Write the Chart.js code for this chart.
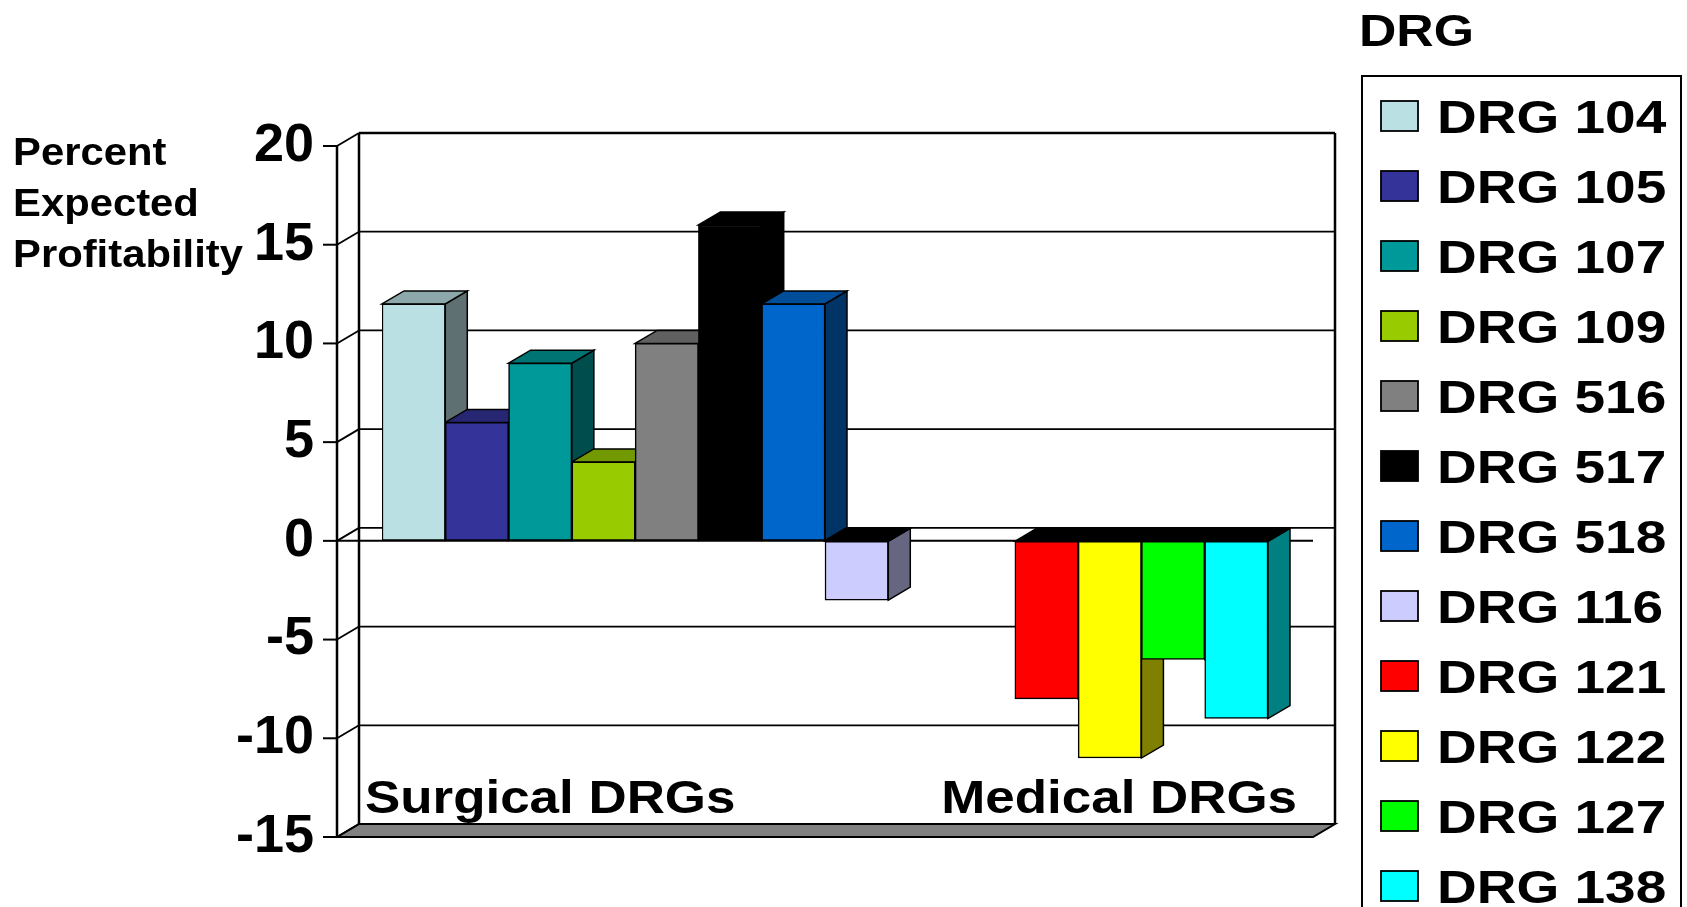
<!DOCTYPE html>
<html>
<head>
<meta charset="utf-8">
<script src="https://cdn.jsdelivr.net/npm/chart.js@4.4.1/dist/chart.umd.min.js"></script>
<style>
  html, body { margin: 0; padding: 0; background: #fff; }
  #wrap { width: 1687px; height: 907px; position: relative; }
</style>
</head>
<body>
<div id="wrap"><canvas id="drgChart"></canvas></div>
<script>
// ---- data ----
const drgNames = ['DRG 104', 'DRG 105', 'DRG 107', 'DRG 109', 'DRG 516', 'DRG 517',
                  'DRG 518', 'DRG 116', 'DRG 121', 'DRG 122', 'DRG 127', 'DRG 138'];
const drgGroup = ['Surgical', 'Surgical', 'Surgical', 'Surgical', 'Surgical', 'Surgical',
                  'Surgical', 'Surgical', 'Medical', 'Medical', 'Medical', 'Medical'];
const profitability = [12, 6, 9, 4, 10, 16, 12, -3, -8, -11, -6, -9];
const drgColors = ['#BBE0E3', '#333399', '#009999', '#99CC00', '#808080', '#000000',
                   '#0066CC', '#CCCCFF', '#FF0000', '#FFFF00', '#00FF00', '#00FFFF'];
const groupTitles = ['Surgical DRGs', 'Medical DRGs'];
const yTitle = ['Percent', 'Expected', 'Profitability'];
const yMin = -15, yMax = 20, yStep = 5;

// empty slots between the surgical and the medical bars
const GAP_SLOTS = 2;

const FONT = '"Liberation Sans", Arial, sans-serif';
const DX = 22, DY = 13;      // depth offset of the 3D look
const SIDE_GAP = 45;         // floor margin left/right of the bars

// build slot labels / values: surgical, gap, medical
const slotLabels = [];
const slotValues = [];
const slotColors = [];
drgNames.forEach((name, i) => {
    if (i > 0 && drgGroup[i] !== drgGroup[i - 1]) {
        for (let g = 0; g < GAP_SLOTS; g++) {
            slotLabels.push('');
            slotValues.push(null);
            slotColors.push('rgba(0,0,0,0)');
        }
    }
    slotLabels.push(name);
    slotValues.push(profitability[i]);
    slotColors.push(drgColors[i]);
});

function shade(hex, f) {
    const n = parseInt(hex.slice(1), 16);
    const r = Math.round(((n >> 16) & 255) * f);
    const g = Math.round(((n >> 8) & 255) * f);
    const b = Math.round((n & 255) * f);
    return `rgb(${r},${g},${b})`;
}

function poly(ctx, pts, fill, lw) {
    ctx.beginPath();
    ctx.moveTo(pts[0][0], pts[0][1]);
    for (let i = 1; i < pts.length; i++) ctx.lineTo(pts[i][0], pts[i][1]);
    ctx.closePath();
    if (fill) { ctx.fillStyle = fill; ctx.fill(); }
    ctx.lineWidth = lw || 1.5;
    ctx.strokeStyle = '#000';
    ctx.stroke();
}

function line(ctx, x1, y1, x2, y2, lw) {
    ctx.beginPath();
    ctx.moveTo(x1, y1);
    ctx.lineTo(x2, y2);
    ctx.lineWidth = lw;
    ctx.strokeStyle = '#000';
    ctx.stroke();
}

function wideText(ctx, text, x, y, size, align, sx) {
    ctx.save();
    ctx.font = `bold ${size}px ${FONT}`;
    ctx.fillStyle = '#000';
    ctx.textAlign = align;
    ctx.textBaseline = 'alphabetic';
    ctx.translate(x, y);
    ctx.scale(sx, 1);
    ctx.fillText(text, 0, 0);
    ctx.restore();
}

// walls, floor, front axis and the bar sides/tops
const wallPlugin = {
    id: 'wall3d',
    beforeDatasetsDraw(chart) {
        const ctx = chart.ctx;
        const area = chart.chartArea;
        const ys = chart.scales.y;
        const ax = area.left - SIDE_GAP;
        const fr = area.right + SIDE_GAP;
        const yTop = ys.getPixelForValue(yMax);
        const yBot = ys.getPixelForValue(yMin);
        ctx.save();

        // back wall gridlines
        for (let v = yMin; v <= yMax; v += yStep) {
            const y = ys.getPixelForValue(v) - DY;
            line(ctx, ax + DX, y, fr + DX, y, v === yMax ? 2.5 : 1.8);
        }
        line(ctx, ax + DX, yTop - DY, ax + DX, yBot - DY, 2.5);
        line(ctx, fr + DX, yTop - DY, fr + DX, yBot - DY, 2.5);

        // floor
        poly(ctx, [[ax, yBot], [ax + DX, yBot - DY], [fr + DX, yBot - DY], [fr, yBot]], '#808080', 2);

        // front axis, ticks and depth connectors
        line(ctx, ax, yTop, ax, yBot, 2.5);
        for (let v = yMin; v <= yMax; v += yStep) {
            const y = ys.getPixelForValue(v);
            line(ctx, ax - 14, y, ax, y, 2);
            line(ctx, ax, y, ax + DX, y - DY, 1.8);
        }
        const y0 = ys.getPixelForValue(0);
        line(ctx, ax, y0, fr, y0, 2);

        // bar sides and tops, left to right
        const meta = chart.getDatasetMeta(0);
        meta.data.forEach((bar, i) => {
            const v = slotValues[i];
            if (v === null || v === undefined) return;
            const p = bar.getProps(['x', 'y', 'base', 'width'], true);
            const l = p.x - p.width / 2, r = p.x + p.width / 2;
            const top = Math.min(p.y, p.base), bot = Math.max(p.y, p.base);
            const col = slotColors[i];
            poly(ctx, [[r, top], [r + DX, top - DY], [r + DX, bot - DY], [r, bot]], shade(col, 0.5));
            const topFill = v < 0 ? '#000' : shade(col, 0.75);
            poly(ctx, [[l, top], [l + DX, top - DY], [r + DX, top - DY], [r, top]], topFill);
        });
        ctx.restore();
    },
    afterDraw(chart) {
        const ctx = chart.ctx;
        const area = chart.chartArea;
        const yBot = chart.scales.y.getPixelForValue(yMin);

        // y title, three lines
        yTitle.forEach((t, i) => wideText(ctx, t, 13, 165 + i * 51, 38, 'left', 1.1));

        // group captions just above the floor
        wideText(ctx, groupTitles[0], area.left - 17, yBot - 24, 46, 'left', 1.15);
        wideText(ctx, groupTitles[1], area.right + 29, yBot - 24, 46, 'right', 1.15);

        // legend with its title and frame
        const lx = 1362, ly = 76;
        wideText(ctx, 'DRG', lx - 3, 46, 45, 'left', 1.15);
        ctx.save();
        ctx.lineWidth = 2;
        ctx.strokeStyle = '#000';
        ctx.strokeRect(lx, ly, 1681 - lx, 907 + 20 - ly);
        drgNames.forEach((name, i) => {
            const cy = ly + 40 + i * 70;
            ctx.fillStyle = drgColors[i];
            ctx.fillRect(lx + 19, cy - 15, 37, 30);
            ctx.lineWidth = 1.8;
            ctx.strokeRect(lx + 19, cy - 15, 37, 30);
            wideText(ctx, name, lx + 75, cy + 17, 47, 'left', 1.17);
        });
        ctx.restore();
    }
};

new Chart(document.getElementById('drgChart'), {
    type: 'bar',
    data: {
        labels: slotLabels,
        datasets: [{
            label: 'Percent Expected Profitability',
            data: slotValues,
            backgroundColor: slotColors,
            borderColor: '#000',
            borderWidth: 1.5,
            borderSkipped: false,
            categoryPercentage: 1.0,
            barPercentage: 1.0
        }]
    },
    options: {
        responsive: true,
        maintainAspectRatio: false,
        devicePixelRatio: 1,
        animation: false,
        layout: { padding: { left: 0, top: 146, right: 419, bottom: 70 } },
        plugins: {
            legend: { display: false },
            tooltip: { enabled: false }
        },
        scales: {
            x: { display: false },
            y: {
                min: yMin,
                max: yMax,
                afterFit(scale) { scale.width = 382; },
                border: { display: false },
                // invisible tick marks only push the labels left of the front axis
                grid: { display: true, drawOnChartArea: false, drawTicks: true,
                        tickLength: 68, color: 'rgba(0,0,0,0)' },
                ticks: {
                    stepSize: yStep,
                    padding: 0,
                    color: '#000',
                    font: { family: FONT, size: 54, weight: 'bold' }
                }
            }
        }
    },
    plugins: [wallPlugin]
});
</script>
</body>
</html>
